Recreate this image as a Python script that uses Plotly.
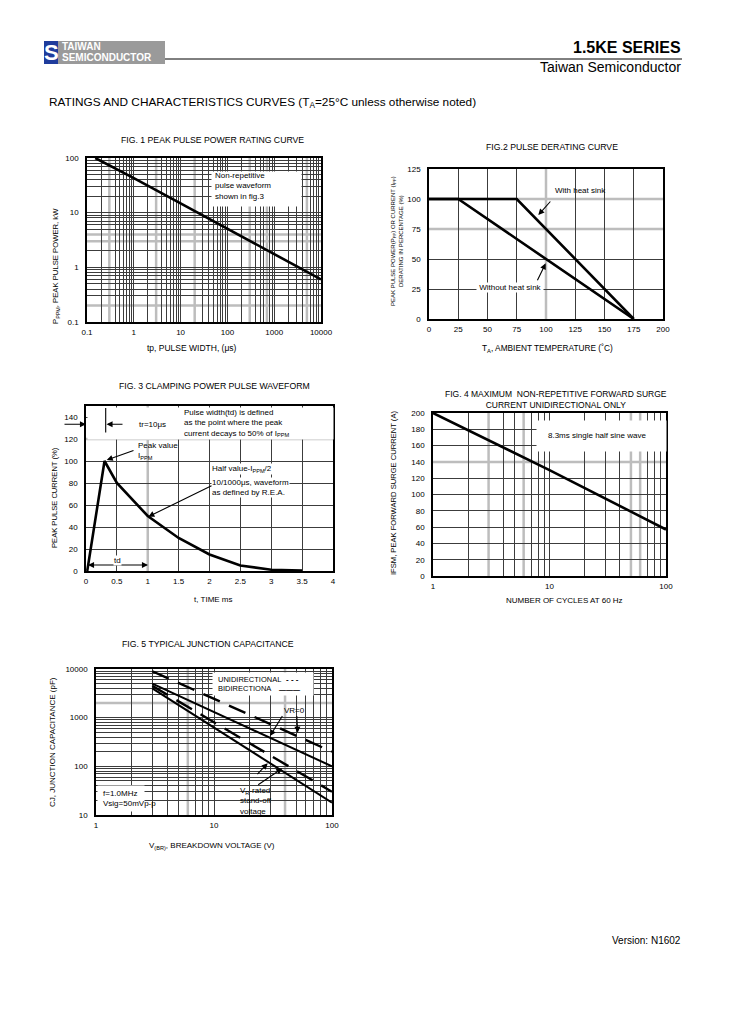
import plotly.graph_objects as go

W, H = 729, 1032
FONT = "Liberation Sans, Arial, sans-serif"
GRID = "#3c3c3c"
GRAY = "#bdbdbd"

# ---------------- data ----------------
# Fig 1: peak pulse power vs pulse width
f1_tp = [0.15, 1, 10, 100, 1000, 10000]
f1_ppk = [100, 43, 14.8, 5.1, 1.75, 0.6]
f1_xticks = [0.1, 1, 10, 100, 1000, 10000]
f1_xlabels = ["0.1", "1", "10", "100", "1000", "10000"]
f1_yticks = [0.1, 1, 10, 100]
f1_ylabels = ["0.1", "1", "10", "100"]

# Fig 2: pulse derating
f2_temp_nohs = [0, 25, 175]
f2_pct_nohs = [100, 100, 0]
f2_temp_hs = [0, 75, 175]
f2_pct_hs = [100, 100, 0]
f2_xticks = [0, 25, 50, 75, 100, 125, 150, 175, 200]
f2_yticks = [0, 25, 50, 75, 100, 125]

# Fig 3: pulse waveform
f3_t = [0.02, 0.3, 0.5, 1.0, 1.5, 2.0, 2.5, 3.0, 3.5]
f3_i = [0, 100, 80, 50, 30, 15, 5, 1.2, 0.3]
f3_xticks = [0, 0.5, 1, 1.5, 2, 2.5, 3, 3.5, 4]
f3_xlabels = ["0", "0.5", "1", "1.5", "2", "2.5", "3", "3.5", "4"]
f3_yticks = [0, 20, 40, 60, 80, 100, 120, 140]

# Fig 4: forward surge current
f4_cycles = [1, 2, 10, 50, 100]
f4_ifsm = [200, 179, 130, 79, 57]
f4_xticks = [1, 10, 100]
f4_yticks = [0, 20, 40, 60, 80, 100, 120, 140, 160, 180, 200]

# Fig 5: junction capacitance
f5_v = [3, 100]
f5_uni_vr0 = [9000, 200]
f5_bi_vr0 = [5000, 100]
f5_uni_rated = [4500, 30]
f5_bi_rated = [4000, 18]
f5_xticks = [1, 10, 100]
f5_yticks = [10, 100, 1000, 10000]

# emphasised (light, thick) grid lines
f1_gray_x = [0.3, 3, 20, 300, 700, 5000]
f1_gray_y = [0.2, 3, 4]
f2_gray_x = [100]
f2_gray_y = [75, 100]
f3_gray_x = [1.0]
f3_gray_y = [120]
f4_gray_x = [3, 6, 50, 60]
f4_gray_y = [140]
f5_gray_x = [6, 40]
f5_gray_y = [2000]

# ---------------- layout helpers ----------------
# plot-area pixel boxes on the page: left, right, top, bottom
BOX = {1: (87, 321, 158, 322), 2: (429, 663, 169, 319), 3: (86, 333, 406, 571),
       4: (433, 666, 413, 576), 5: (96, 332, 669, 815)}


def px(x):
    return x / W


def py(y):
    return 1 - y / H


def log_minor(lo, hi):
    out = []
    d = lo
    while d < hi:
        for k in range(2, 10):
            out.append(k * 10 ** d)
        d += 1
    return out


def without(vals, excl):
    return [v for v in vals if all(abs(v - e) > 1e-6 * max(1, abs(e)) for e in excl)]


def axis(i, axname, grid, **kw):
    l, r, t, b = BOX[i]
    d = dict(showline=True, linecolor="black", linewidth=1.5, mirror=True,
             ticks="", showgrid=False, zeroline=False, fixedrange=True, automargin=False,
             tickfont=dict(family=FONT, size=8, color="black"),
             minor=dict(tickvals=grid, showgrid=True, gridcolor=GRID, gridwidth=0.8, ticks=""))
    if axname == "x":
        d["domain"] = [px(l), px(r)]
        d["ticklabelstandoff"] = 2
    else:
        d["domain"] = [py(b), py(t)]
        d["ticklabelstandoff"] = 5
    d.update(kw)
    return d


fig = go.Figure()

line_style = dict(color="black", width=2.6)
fig.add_trace(go.Scatter(x=f1_tp, y=f1_ppk, mode="lines", line=line_style, xaxis="x", yaxis="y"))
fig.add_trace(go.Scatter(x=f2_temp_nohs, y=f2_pct_nohs, mode="lines", line=line_style, xaxis="x2", yaxis="y2"))
fig.add_trace(go.Scatter(x=f2_temp_hs, y=f2_pct_hs, mode="lines", line=line_style, xaxis="x2", yaxis="y2"))
fig.add_trace(go.Scatter(x=f3_t, y=f3_i, mode="lines", line=line_style, xaxis="x3", yaxis="y3"))
fig.add_trace(go.Scatter(x=f4_cycles, y=f4_ifsm, mode="lines", line=line_style, xaxis="x4", yaxis="y4"))
dash = "18px,10px"
fig.add_trace(go.Scatter(x=f5_v, y=f5_uni_vr0, mode="lines", line=dict(color="black", width=2.4, dash=dash), xaxis="x5", yaxis="y5"))
fig.add_trace(go.Scatter(x=f5_v, y=f5_bi_vr0, mode="lines", line=dict(color="black", width=2), xaxis="x5", yaxis="y5"))
fig.add_trace(go.Scatter(x=f5_v, y=f5_uni_rated, mode="lines", line=dict(color="black", width=2.4, dash=dash), xaxis="x5", yaxis="y5"))
fig.add_trace(go.Scatter(x=f5_v, y=f5_bi_rated, mode="lines", line=dict(color="black", width=2), xaxis="x5", yaxis="y5"))

g1x = without(f1_xticks + log_minor(-1, 4), f1_gray_x)
g1y = without(f1_yticks + log_minor(-1, 2), f1_gray_y)
g2x = without(f2_xticks, f2_gray_x)
g2y = without(f2_yticks, f2_gray_y)
g3x = without(f3_xticks, f3_gray_x)
g3y = without(f3_yticks, f3_gray_y)
g4x = without(f4_xticks + log_minor(0, 2), f4_gray_x)
g4y = without(f4_yticks, f4_gray_y)
g5x = without(f5_xticks + log_minor(0, 2), f5_gray_x)
g5y = without(f5_yticks + log_minor(1, 4), f5_gray_y)

layout = dict(
    width=W, height=H, autosize=False,
    margin=dict(l=0, r=0, t=0, b=0, pad=0, autoexpand=False),
    paper_bgcolor="white", plot_bgcolor="white", showlegend=False,
    font=dict(family=FONT, size=8, color="black"),
    xaxis=axis(1, "x", g1x, type="log", range=[-1, 4], tickvals=f1_xticks, ticktext=f1_xlabels, anchor="y"),
    yaxis=axis(1, "y", g1y, type="log", range=[-1, 2], tickvals=f1_yticks, ticktext=f1_ylabels, anchor="x"),
    xaxis2=axis(2, "x", g2x, range=[0, 200], tickvals=f2_xticks, anchor="y2"),
    yaxis2=axis(2, "y", g2y, range=[0, 125], tickvals=f2_yticks, anchor="x2"),
    xaxis3=axis(3, "x", g3x, range=[0, 4], tickvals=f3_xticks, ticktext=f3_xlabels, anchor="y3"),
    yaxis3=axis(3, "y", g3y, range=[0, 150], tickvals=f3_yticks, anchor="x3"),
    xaxis4=axis(4, "x", g4x, type="log", range=[0, 2], tickvals=f4_xticks,
                ticktext=[str(v) for v in f4_xticks], anchor="y4"),
    yaxis4=axis(4, "y", g4y, range=[0, 200], tickvals=f4_yticks, anchor="x4"),
    xaxis5=axis(5, "x", g5x, type="log", range=[0, 2], tickvals=f5_xticks,
                ticktext=[str(v) for v in f5_xticks], anchor="y5"),
    yaxis5=axis(5, "y", g5y, type="log", range=[1, 4], tickvals=f5_yticks,
                ticktext=[str(v) for v in f5_yticks], anchor="x5"),
)
fig.update_layout(**layout)

shapes = []


def gray_lines(i, xs, ys):
    sx = "x" if i == 1 else f"x{i}"
    sy = "y" if i == 1 else f"y{i}"
    for v in xs:
        shapes.append(dict(type="line", xref=sx, yref=f"{sy} domain", x0=v, x1=v, y0=0, y1=1,
                           line=dict(color=GRAY, width=2.5), layer="below"))
    for v in ys:
        shapes.append(dict(type="line", xref=f"{sx} domain", yref=sy, x0=0, x1=1, y0=v, y1=v,
                           line=dict(color=GRAY, width=2.5), layer="below"))


gray_lines(1, f1_gray_x, f1_gray_y)
gray_lines(2, f2_gray_x, f2_gray_y)
gray_lines(3, f3_gray_x, f3_gray_y)
gray_lines(4, f4_gray_x, f4_gray_y)
gray_lines(5, f5_gray_x, f5_gray_y)

# header graphics
shapes.append(dict(type="rect", xref="paper", yref="paper", x0=px(44), x1=px(58), y0=py(64), y1=py(41),
                   fillcolor="#1f3c9c", line=dict(width=0)))
shapes.append(dict(type="rect", xref="paper", yref="paper", x0=px(58), x1=px(165), y0=py(64), y1=py(41),
                   fillcolor="#9a9a9a", line=dict(width=0)))
shapes.append(dict(type="line", xref="paper", yref="paper", x0=px(165), x1=px(682), y0=py(59), y1=py(59),
                   line=dict(color="black", width=1)))
fig.update_layout(shapes=shapes)

ann = []


def box(x0, y0, x1, y1):
    ann.append(dict(x=px(x0), y=py(y0), xref="paper", yref="paper", xanchor="left", yanchor="top",
                    width=x1 - x0, height=y1 - y0, text=" ", showarrow=False,
                    bgcolor="white", borderpad=0, font=dict(family=FONT, size=6)))


def text(x, y, s, size=8, xanchor="left", yanchor="middle", bold=False, color="black",
         angle=0, bg=None, align="left"):
    if bold:
        s = f"<b>{s}</b>"
    d = dict(x=px(x), y=py(y), xref="paper", yref="paper", text=s, showarrow=False,
             xanchor=xanchor, yanchor=yanchor, textangle=angle, align=align,
             font=dict(family=FONT, size=size, color=color), borderpad=0)
    if bg:
        d["bgcolor"] = bg
    ann.append(d)


def arrow(hx, hy, tx, ty, side="end", head=2):
    ann.append(dict(x=px(hx), y=py(hy), xref="paper", yref="paper", text="",
                    showarrow=True, ax=tx - hx, ay=ty - hy, arrowhead=head, arrowsize=1.1,
                    arrowwidth=1.1, arrowcolor="black", arrowside=side, standoff=0, startstandoff=0))


# white panels hiding the grid behind text
box(211, 171, 300, 205)
box(86.8, 406.8, 332.2, 437.5)
box(536, 420, 665.2, 450)
box(97, 785, 143, 810)
box(212, 672, 312, 694)

TS = 8.7   # figure title size
# header
text(51, 52.5, "S", size=22, xanchor="center", bold=True, color="white")
text(61, 47, "TAIWAN", size=10, bold=True, color="white")
text(61, 58, "SEMICONDUCTOR", size=10, bold=True, color="white")
text(682, 48, "1.5KE SERIES", size=16, xanchor="right", bold=True)
text(682, 67, "Taiwan Semiconductor", size=14, xanchor="right")
text(48, 103, "RATINGS AND CHARACTERISTICS CURVES (T<sub>A</sub>=25°C unless otherwise noted)", size=11.8)
text(682, 940, "Version: N1602", size=10, xanchor="right")

# fig 1
text(212, 140, "FIG. 1 PEAK PULSE POWER RATING CURVE", size=TS, xanchor="center")
text(192, 348, "tp, PULSE WIDTH, (μs)", size=8.5, xanchor="center")
text(56, 266, "P<sub>PPM</sub>, PEAK PULSE POWER, kW", size=7.7, xanchor="center", angle=-90)
text(214, 186, "Non-repetitive<br>pulse waveform<br>shown in fig.3")

# fig 2
text(552, 147, "FIG.2 PULSE DERATING CURVE", size=TS, xanchor="center")
text(547, 349, "T<sub>A</sub>, AMBIENT TEMPERATURE (˚C)", size=8.3, xanchor="center")
text(397, 241, "PEAK PULSE POWER(P<sub>PP</sub>) OR CURRENT (I<sub>PP</sub>)<br>DERATING IN PERCENTAGE (%)",
     size=6, xanchor="center", angle=-90, align="center")
text(554, 190.5, "With heat sink")
arrow(538.3, 215, 551.7, 200)
text(476, 287.7, " Without heat sink ", bg="white")
arrow(545.7, 263.3, 536.7, 281.7)

# fig 3
text(214.5, 386, "FIG. 3 CLAMPING POWER PULSE WAVEFORM", size=TS, xanchor="center")
text(213.7, 599, "t, TIME ms", xanchor="center")
text(55, 497, "PEAK PULSE CURRENT (%)", size=7.6, xanchor="center", angle=-90)
text(183, 423.5, "Pulse width(td) is defined<br>as the point where the peak<br>current decays to 50% of I<sub>PPM</sub>")
text(138, 424.3, "tr=10μs")
arrow(86, 424.3, 63, 424.3)
arrow(106.5, 424.3, 124, 424.3)
arrow(105.7, 408, 105.7, 434, head=0)
text(137, 450.5, "Peak value<br>I<sub>PPM</sub>")
arrow(106.7, 460, 135, 450)
text(211, 469, "Half value-I<sub>PPM</sub>/2", bg="white")
text(211, 488, "10/1000μs, waveform<br>as defined by R.E.A.", bg="white")
arrow(148.3, 516.7, 213, 485)
arrow(148, 565, 86.5, 565, side="end+start")
text(117, 560, "td", xanchor="center", bg="white")

# fig 4
text(555.5, 399.5, "FIG. 4 MAXIMUM  NON-REPETITIVE FORWARD SURGE<br>CURRENT UNIDIRECTIONAL ONLY",
     size=8.5, xanchor="center", align="center")
text(564, 600.7, "NUMBER OF CYCLES AT 60 Hz", xanchor="center")
text(394, 493, "IFSM, PEAK FORWARD SURGE CURRENT (A)", size=7.6, xanchor="center", angle=-90)
text(597, 435, "8.3ms single half sine wave", xanchor="center")

# fig 5
text(208.5, 644, "FIG. 5 TYPICAL JUNCTION CAPACITANCE", size=TS, xanchor="center")
text(211.7, 846, "V<sub>(BR)</sub>, BREAKDOWN VOLTAGE (V)", xanchor="center")
text(52, 742, "CJ, JUNCTION CAPACITANCE (pF)", xanchor="center", angle=-90)
text(217, 679, "UNIDIRECTIONAL", size=7.5)
text(285, 679, "<b>- - -</b>")
text(217, 688.5, "BIDIRECTIONA", size=7.5)
text(278, 689, "<b>———</b>", size=7)
text(283, 710.7, "VR=0")
arrow(270, 736, 283.3, 714.5)
arrow(297.7, 732.7, 296.7, 714.5)
text(239, 801, "V<sub>R</sub>-rated<br>stand-off<br>voltage")
arrow(267.7, 763.3, 256, 775.7)
arrow(282.3, 768.3, 256.7, 785.7)
text(102, 798, "f=1.0MHz<br>Vsig=50mVp-p")

fig.update_layout(annotations=ann)
fig.write_html(
    "out.html",
    config={"displayModeBar": False},
    post_script="document.body.style.margin='0';document.documentElement.style.overflow='hidden';",
)
